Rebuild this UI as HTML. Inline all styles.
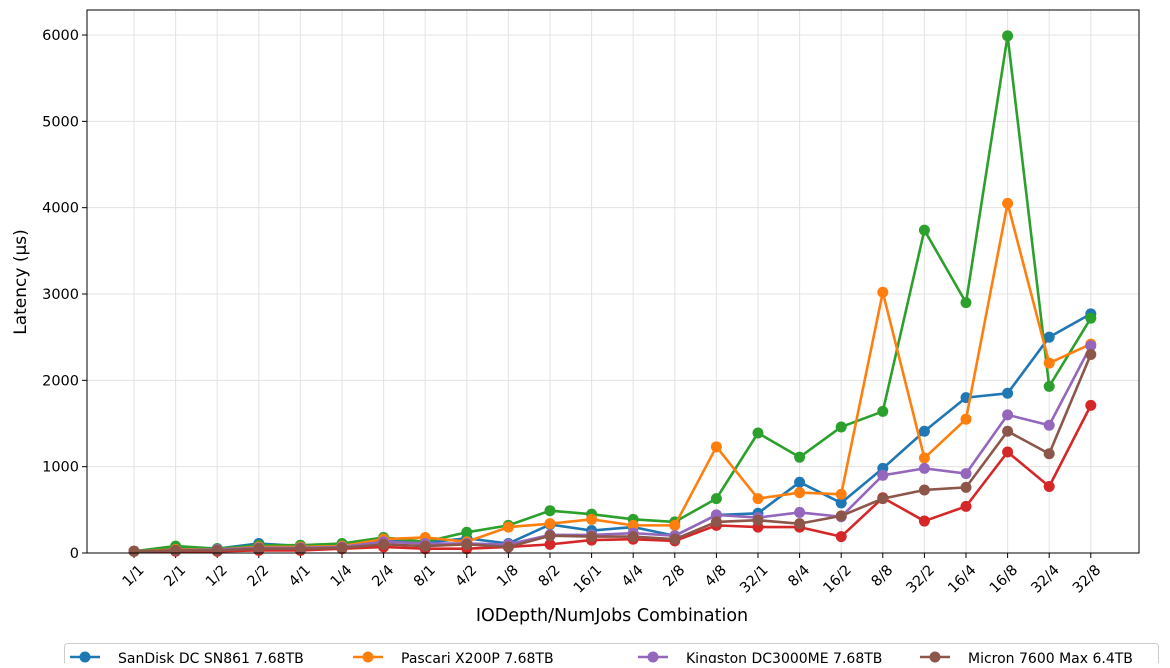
<!DOCTYPE html>
<html><head><meta charset="utf-8"><style>
html,body{margin:0;padding:0;background:#fff;}
svg text{font-family:"DejaVu Sans","Liberation Sans",sans-serif;fill:#000;}
</style></head><body>
<svg id="s" width="1170" height="663" xmlns="http://www.w3.org/2000/svg"></svg>
<script>
const s=document.getElementById('s');
const L=87,R=1139,T=10,B=553;
const X=i=>134+41.6*i, Y=v=>B-v*0.08633;
const cats=["1/1","2/1","1/2","2/2","4/1","1/4","2/4","8/1","4/2","1/8","8/2","16/1","4/4","2/8","4/8","32/1","8/4","16/2","8/8","32/2","16/4","16/8","32/4","32/8"];
let h='';
for(let i=0;i<24;i++){h+=`<line x1="${X(i)}" y1="${T}" x2="${X(i)}" y2="${B}" stroke="#e3e3e3" stroke-width="1"/>`;}
for(let v=0;v<=6000;v+=1000){h+=`<line x1="${L}" y1="${Y(v)}" x2="${R}" y2="${Y(v)}" stroke="#e3e3e3" stroke-width="1"/>`;
h+=`<line x1="${L-5}" y1="${Y(v)}" x2="${L}" y2="${Y(v)}" stroke="#000"/>`;
h+=`<text x="${L-8}" y="${Y(v)+5}" font-size="14.5" text-anchor="end">${v}</text>`;}
for(let i=0;i<24;i++){h+=`<line x1="${X(i)}" y1="${B}" x2="${X(i)}" y2="${B+5}" stroke="#000"/>`;
h+=`<text transform="translate(${X(i)+4},${B+11}) rotate(-45)" font-size="14.5" text-anchor="end" dominant-baseline="hanging">${cats[i]}</text>`;}
const series=[
["#1f77b4",[20,50,50,110,80,90,150,120,170,110,330,260,300,200,440,460,820,580,980,1410,1800,1850,2500,2770]],
["#2ca02c",[20,80,50,90,90,110,180,130,240,320,490,450,390,360,630,1390,1110,1460,1640,3740,2900,5990,1930,2720]],
["#ff7f0e",[20,40,40,70,70,80,160,180,130,300,340,390,320,320,1230,630,700,680,3020,1100,1550,4050,2200,2420]],
["#d62728",[20,20,20,30,30,50,70,50,50,70,100,150,160,140,320,300,300,190,640,370,540,1170,770,1710]],
["#9467bd",[20,30,40,60,60,70,130,110,110,100,210,210,230,200,440,410,470,420,900,980,920,1600,1480,2400]],
["#8c564b",[20,30,30,50,50,60,100,80,100,70,200,190,190,160,360,380,340,430,630,730,760,1410,1150,2300]]];
for(const [c,d] of series){
h+=`<polyline fill="none" stroke="${c}" stroke-width="2.6" stroke-linejoin="round" points="${d.map((v,i)=>X(i)+','+Y(v)).join(' ')}"/>`;
for(let i=0;i<24;i++)h+=`<circle cx="${X(i)}" cy="${Y(d[i])}" r="5.5" fill="${c}"/>`;}
h+=`<rect x="${L}" y="${T}" width="${R-L}" height="${B-T}" fill="none" stroke="#000" stroke-width="1"/>`;
h+=`<text x="612" y="621" font-size="17.5" text-anchor="middle">IODepth/NumJobs Combination</text>`;
h+=`<text transform="translate(26,282) rotate(-90)" font-size="17" text-anchor="middle">Latency (µs)</text>`;
h+=`<rect x="64.5" y="643.5" width="1094" height="40" rx="3" fill="#fff" stroke="#ccc"/>`;
const leg=[["#1f77b4","SanDisk DC SN861 7.68TB",70],["#ff7f0e","Pascari X200P 7.68TB",353],["#9467bd","Kingston DC3000ME 7.68TB",638],["#8c564b","Micron 7600 Max 6.4TB",920]];
for(const [c,t,x] of leg){h+=`<line x1="${x}" y1="657" x2="${x+30}" y2="657" stroke="${c}" stroke-width="2.6"/><circle cx="${x+15}" cy="657" r="5.5" fill="${c}"/>`;
h+=`<text x="${x+48}" y="663" font-size="14">${t}</text>`;}
s.innerHTML=h;
</script>
</body></html>
